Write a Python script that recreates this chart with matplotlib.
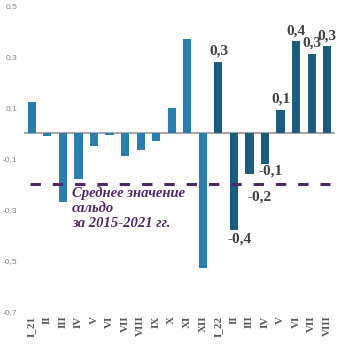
import matplotlib.pyplot as plt
from matplotlib.ticker import FixedLocator

# Monthly balance, 2021 and 2022
months = ['I_21', 'II', 'III', 'IV', 'V', 'VI', 'VII', 'VIII', 'IX', 'X', 'XI', 'XII',
          'I_22', 'II', 'III', 'IV', 'V', 'VI', 'VII', 'VIII']
values_2021 = [0.12, -0.01, -0.27, -0.18, -0.05, -0.006, -0.09, -0.065, -0.03, 0.10, 0.37, -0.53]
values_2022 = [0.28, -0.38, -0.16, -0.12, 0.09, 0.36, 0.31, 0.34]
average_2015_2021 = -0.2
y_ticks = [0.5, 0.3, 0.1, -0.1, -0.3, -0.5, -0.7]

color_2021 = '#2a7eb0'
color_2022 = '#1b5c7f'
purple = '#4d2768'

plt.rcParams['font.family'] = ['Liberation Serif', 'DejaVu Serif']

fig = plt.figure(figsize=(3.47, 3.6), dpi=100)
ax = fig.add_axes([24 / 347, 1 - 311.5 / 360, 311 / 347, 306 / 360])

n21 = len(values_2021)
x21 = list(range(n21))
x22 = list(range(n21, n21 + len(values_2022)))

ax.bar(x21, values_2021, width=0.53, color=color_2021, zorder=2)
ax.bar(x22, values_2022, width=0.53, color=color_2022, zorder=2)

# Zero line
ax.axhline(0, color='#8c8c8c', lw=1.1, zorder=1)

# Long-run average
ax.plot([-0.1, 19.2], [average_2015_2021] * 2, color=purple, lw=2.2,
        dashes=(3.4, 3.9), dash_capstyle='butt', zorder=3)
ax.text(2.6, -0.21, 'Среднее значение\nсальдо\nза 2015-2021 гг.', color=purple,
        fontsize=10.5, fontweight='bold', fontstyle='italic', va='top', ha='left',
        linespacing=1.2)

# Value labels on the 2022 bars (point offsets)
nudge = {1: (4, -2), 2: (7, -12), 3: (4, -1)}
for i, (x, v) in enumerate(zip(x22, values_2022)):
    dx, dy = nudge.get(i, (0, 3 if v > 0 else -2))
    ax.annotate(f'{v:.1f}'.replace('.', ','), (x, v), xytext=(dx, dy),
                textcoords='offset points', ha='center',
                va='bottom' if v > 0 else 'top', fontsize=11, fontweight='bold',
                color='#404040', zorder=4)

ax.set_xlim(-0.5, 19.5)
ax.set_ylim(-0.7, 0.5)
ax.yaxis.set_major_locator(FixedLocator(y_ticks))
ax.set_yticklabels([f'{t:.1f}'.replace('.', ',') for t in y_ticks],
                   family='Liberation Sans')
ax.set_xticks(range(len(months)))
ax.set_xticklabels(months, rotation=90, fontweight='bold')

ax.tick_params(axis='y', length=0, pad=5, labelsize=6, labelcolor='#808080')
ax.tick_params(axis='x', length=0, pad=3, labelsize=8, labelcolor='#5a5a5a')
for s in ax.spines.values():
    s.set_visible(False)

fig.savefig('out.png', dpi=100)
